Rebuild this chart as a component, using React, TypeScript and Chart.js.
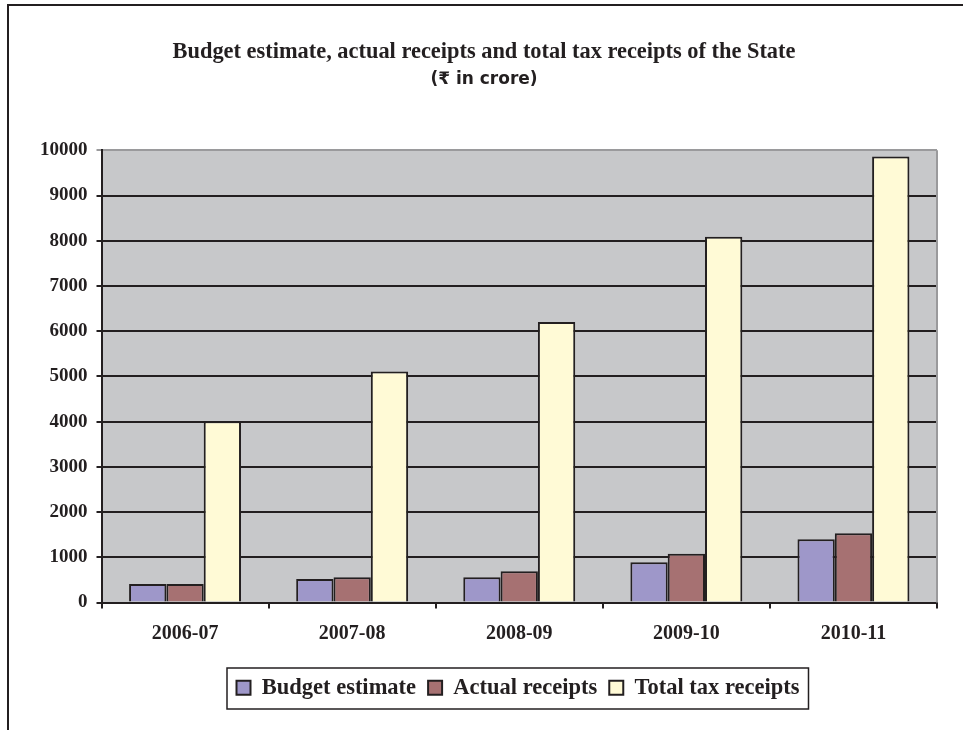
import React, { useEffect, useRef } from "react";
import { Chart, registerables } from "chart.js";

Chart.register(...registerables);

const categories = ["2006-07", "2007-08", "2008-09", "2009-10", "2010-11"];
const budgetEstimate = [410, 520, 560, 890, 1400];
const actualReceipts = [410, 560, 690, 1080, 1530];
const totalTaxReceipts = [4010, 5110, 6200, 8090, 9860];
const yTicks = [0, 1000, 2000, 3000, 4000, 5000, 6000, 7000, 8000, 9000, 10000];

const INK = "#231F20";

const framePlugin = {
  id: "framePlugin",
  afterLayout(chart: any) {
    const lg = chart.legend;
    if (lg) {
      lg.left += 34;
      lg.right += 34;
    }
  },
  beforeDraw(chart: any) {
    const { ctx, chartArea } = chart;
    ctx.save();
    ctx.fillStyle = "#C7C8CA";
    ctx.fillRect(chartArea.left, chartArea.top, chartArea.right - chartArea.left, chartArea.bottom - chartArea.top);
    ctx.restore();
  },
  afterDraw(chart: any) {
    const { ctx, chartArea } = chart;
    ctx.save();
    // page frame (left and top)
    ctx.fillStyle = INK;
    ctx.fillRect(7, 4, 2, chart.height - 4);
    ctx.fillRect(7, 4, chart.width - 7, 2);
    // plot right edge
    ctx.strokeStyle = "#9A9A9C";
    ctx.lineWidth = 2;
    ctx.beginPath();
    ctx.moveTo(chartArea.right, chartArea.top);
    ctx.lineTo(chartArea.right, chartArea.bottom);
    ctx.stroke();
    // legend box
    const lg = chart.legend;
    if (lg && lg.legendHitBoxes && lg.legendHitBoxes.length) {
      const hb = lg.legendHitBoxes;
      const first = hb[0];
      const last = hb[hb.length - 1];
      const left = first.left - 9.5;
      const right = last.left + last.width + 9;
      const top = first.top - 8.5;
      const bottom = first.top + first.height + 10;
      ctx.strokeStyle = INK;
      ctx.lineWidth = 1.5;
      ctx.strokeRect(left, top, right - left, bottom - top);
    }
    ctx.restore();
  },
};

export default function App() {
  const ref = useRef<HTMLCanvasElement | null>(null);

  useEffect(() => {
    if (!ref.current) return;
    const chart = new Chart(ref.current, {
      type: "bar",
      data: {
        labels: categories,
        datasets: [
          {
            label: "Budget estimate",
            data: budgetEstimate,
            backgroundColor: "#9E97C9",
            borderColor: INK,
            borderWidth: 2,
          },
          {
            label: "Actual receipts",
            data: actualReceipts,
            backgroundColor: "#A67172",
            borderColor: INK,
            borderWidth: 2,
          },
          {
            label: "Total tax receipts",
            data: totalTaxReceipts,
            backgroundColor: "#FFFAD6",
            borderColor: INK,
            borderWidth: 2,
          },
        ],
      },
      options: {
        animation: false,
        responsive: false,
        maintainAspectRatio: false,
        datasets: {
          bar: {
            categoryPercentage: 0.67,
            barPercentage: 1,
          },
        },
        layout: {
          padding: { left: 31, right: 26, top: 0, bottom: 21 },
        },
        plugins: {
          title: {
            display: true,
            text: "Budget estimate, actual receipts and total tax receipts of the State",
            color: INK,
            font: { family: "'Liberation Serif', serif", size: 22.4, weight: "bold", lineHeight: 1.2 },
            padding: { top: 39, bottom: 3 },
          },
          subtitle: {
            display: true,
            text: "(₹ in crore)",
            color: INK,
            font: { family: "'DejaVu Sans', 'Noto Sans', sans-serif", size: 17, weight: "bold", lineHeight: 1.2 },
            padding: { top: 0, bottom: 61 },
          },
          legend: {
            display: true,
            position: "bottom",
            labels: {
              color: INK,
              font: { family: "'Liberation Serif', serif", size: 22.5, weight: "bold" },
              boxWidth: 14,
              boxHeight: 14,
              padding: 12,
            },
          },
          tooltip: { enabled: false },
        },
        scales: {
          x: {
            afterFit(axis: any) {
              axis.height = axis.height + 6;
            },
            grid: {
              display: true,
              drawOnChartArea: false,
              drawTicks: true,
              tickLength: 6,
              color: INK,
              lineWidth: 2,
            },
            border: { display: true, color: INK, width: 2 },
            ticks: {
              color: INK,
              font: { family: "'Liberation Serif', serif", size: 20, weight: "bold" },
              padding: 13,
            },
          },
          y: {
            min: 0,
            max: 10000,
            afterBuildTicks(axis: any) {
              axis.ticks = yTicks.map((v) => ({ value: v }));
            },
            grid: {
              color: (c: any) => (c.tick && c.tick.value === 10000 ? "#9A9A9C" : INK),
              lineWidth: 2,
              drawTicks: true,
              tickLength: 5,
            },
            border: { display: true, color: INK, width: 2 },
            ticks: {
              color: INK,
              font: { family: "'Liberation Serif', serif", size: 19, weight: "bold" },
              padding: 9,
              callback: (v: any) => String(v),
            },
          },
        },
      },
      plugins: [framePlugin],
    } as any);
    return () => chart.destroy();
  }, []);

  return (
    <div style={{ position: "fixed", left: 0, top: 0, width: 963, height: 730, background: "#fff" }}>
      <canvas ref={ref} width={963} height={730} style={{ display: "block", width: 963, height: 730 }} />
    </div>
  );
}
